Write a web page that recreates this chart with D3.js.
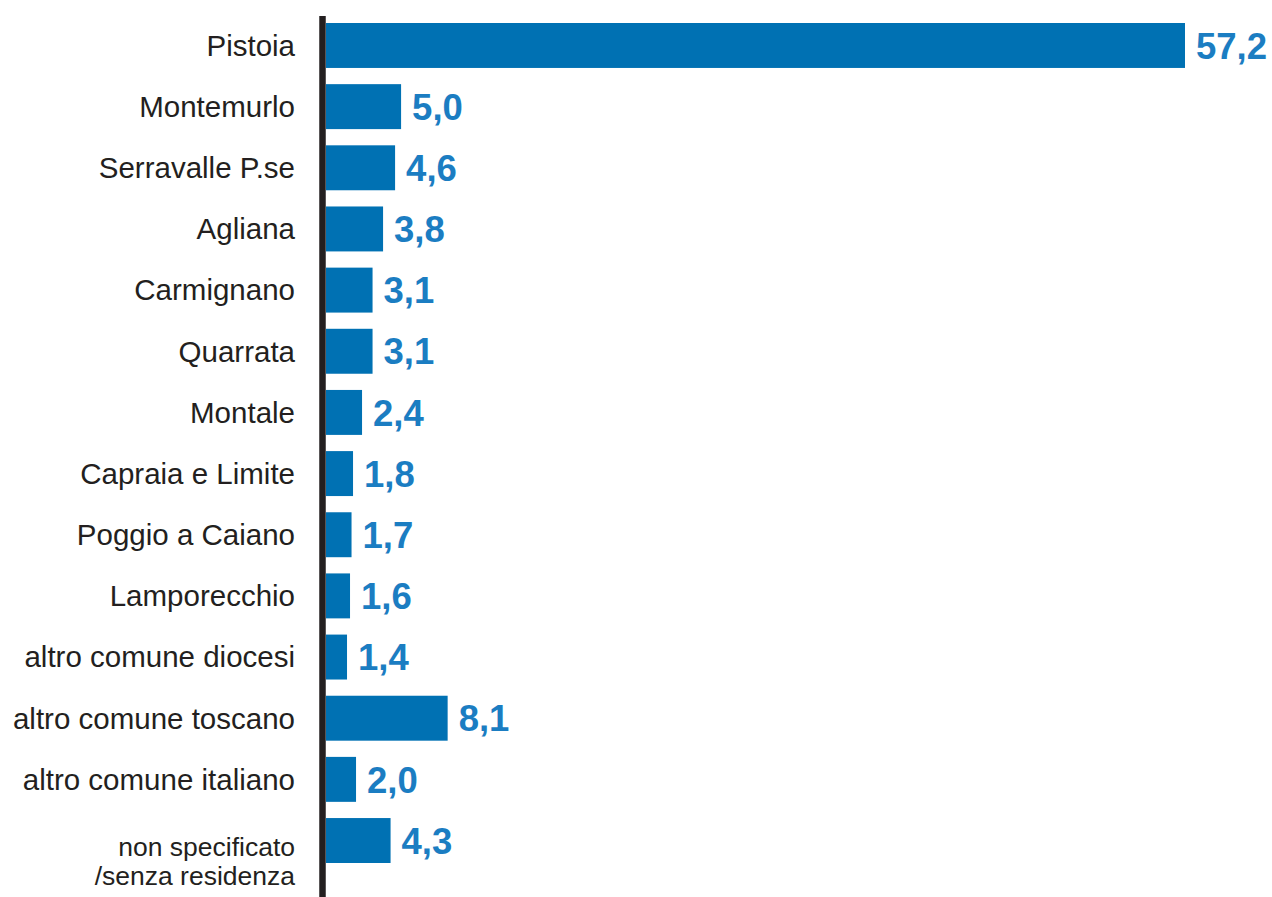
<!DOCTYPE html>
<html>
<head>
<meta charset="utf-8">
<script src="https://cdn.jsdelivr.net/npm/d3@7"></script>
<style>
  html, body { margin: 0; padding: 0; background: #fff; }
  svg { display: block; }
</style>
</head>
<body>
<svg id="chart" width="1272" height="897"></svg>
<script>
// Comune di residenza (%)
const categories = [
  "Pistoia",
  "Montemurlo",
  "Serravalle P.se",
  "Agliana",
  "Carmignano",
  "Quarrata",
  "Montale",
  "Capraia e Limite",
  "Poggio a Caiano",
  "Lamporecchio",
  "altro comune diocesi",
  "altro comune toscano",
  "altro comune italiano",
  "non specificato\n/senza residenza"
];
const values = [57.2, 5.0, 4.6, 3.8, 3.1, 3.1, 2.4, 1.8, 1.7, 1.6, 1.4, 8.1, 2.0, 4.3];
const valueLabels = ["57,2", "5,0", "4,6", "3,8", "3,1", "3,1", "2,4", "1,8", "1,7", "1,6", "1,4", "8,1", "2,0", "4,3"];

const data = categories.map((c, i) => ({ cat: c, value: values[i], label: valueLabels[i] }));

const W = 1272, H = 897;
const axisX = 322.5;
const barX0 = 326;
const labelRight = 295;
const font = "'Liberation Sans', Arial, Helvetica, sans-serif";

const svg = d3.select("#chart");

const x = d3.scaleLinear().domain([0, 57.2]).range([barX0, 1185]);
const y = d3.scaleBand()
  .domain(categories)
  .range([23, 863])
  .paddingInner(0.265)
  .paddingOuter(0);

// bars
svg.append("g")
  .selectAll("rect")
  .data(data)
  .join("rect")
  .attr("x", x(0))
  .attr("y", d => y(d.cat))
  .attr("width", d => x(d.value) - x(0))
  .attr("height", y.bandwidth())
  .attr("fill", "#0071b3");

// value labels
svg.append("g")
  .selectAll("text")
  .data(data)
  .join("text")
  .attr("x", d => x(d.value) + 11)
  .attr("y", d => y(d.cat) + y.bandwidth() / 2)
  .attr("dy", "0.36em")
  .attr("font-family", font)
  .attr("font-weight", "bold")
  .attr("font-size", 36.5)
  .attr("fill", "#1b7dc2")
  .text(d => d.label);

// category labels (right aligned; two lines where the name holds a break)
const catG = svg.append("g");
data.forEach(d => {
  const lines = d.cat.split("\n");
  const cy = y(d.cat) + y.bandwidth() / 2;
  if (lines.length === 1) {
    catG.append("text")
      .attr("x", labelRight)
      .attr("y", cy)
      .attr("dy", "0.35em")
      .attr("text-anchor", "end")
      .attr("font-family", font)
      .attr("font-size", 29.5)
      .attr("fill", "#231f20")
      .text(lines[0]);
  } else {
    const t = catG.append("text")
      .attr("x", labelRight)
      .attr("y", cy)
      .attr("text-anchor", "end")
      .attr("font-family", font)
      .attr("font-size", 26.5)
      .attr("fill", "#231f20");
    lines.forEach((ln, i) => {
      t.append("tspan")
        .attr("x", labelRight)
        .attr("dy", i === 0 ? "0.6em" : "1.07em")
        .text(ln);
    });
  }
});

// vertical axis line
svg.append("line")
  .attr("x1", axisX).attr("x2", axisX)
  .attr("y1", 16).attr("y2", H)
  .attr("stroke", "#231f20")
  .attr("stroke-width", 6.5);
</script>
</body>
</html>
